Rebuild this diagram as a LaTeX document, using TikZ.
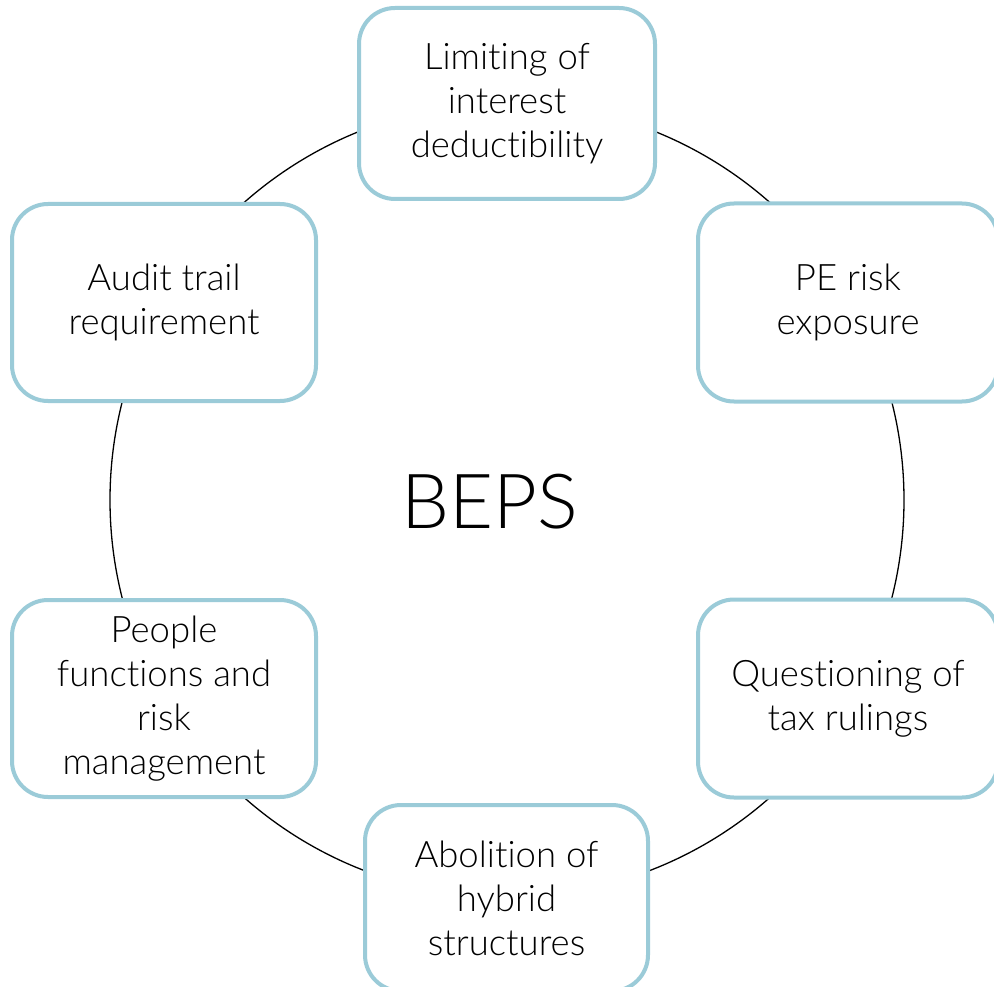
\documentclass[tikz,border=0pt]{standalone}
\usepackage{fontspec}
\setmainfont{Lato}[UprightFont=* Light,RawFeature={-liga;-dlig;-calt;-clig}]
\definecolor{boxblue}{RGB}{155,203,216}
\newcommand\myti{t\kern0pt i}
\begin{document}
\begin{tikzpicture}[x=1pt,y=-1pt,
  item/.style={draw=boxblue,line width=4pt,fill=white,rounded corners=36pt,
    align=center,font=\fontsize{36.5}{44}\selectfont,inner sep=0pt},
  ring/.style={draw=black,line width=1.3pt}]
\useasboundingbox (0,0) rectangle (994,987);
\clip (0,0) rectangle (994,987);
\coordinate (c) at (507,500);
\draw[ring] (c) circle[radius=397];
\node[item,minimum width=296pt,minimum height=191pt] (t) at (507,103.5) {Limi\myti ng of\\interest\\deduc\myti bility};
\node[item,minimum width=300pt,minimum height=198pt] (tr) at (848,302.5) {PE risk\\exposure};
\node[item,minimum width=300pt,minimum height=198pt] (br) at (848,698.5) {Ques\myti oning of\\tax rulings};
\node[item,minimum width=283pt,minimum height=186pt] (b) at (506.5,898) {Aboli\myti on of\\hybrid\\structures};
\node[item,minimum width=304pt,minimum height=197pt] (bl) at (164,698.5) {People\\func\myti ons and\\risk\\management};
\node[item,minimum width=304pt,minimum height=197pt] (tl) at (164,302.5) {Audit trail\\requirement};
\node[font=\fontsize{76}{84}\selectfont] (beps) at (490,502) {BEPS};
\end{tikzpicture}
\end{document}
